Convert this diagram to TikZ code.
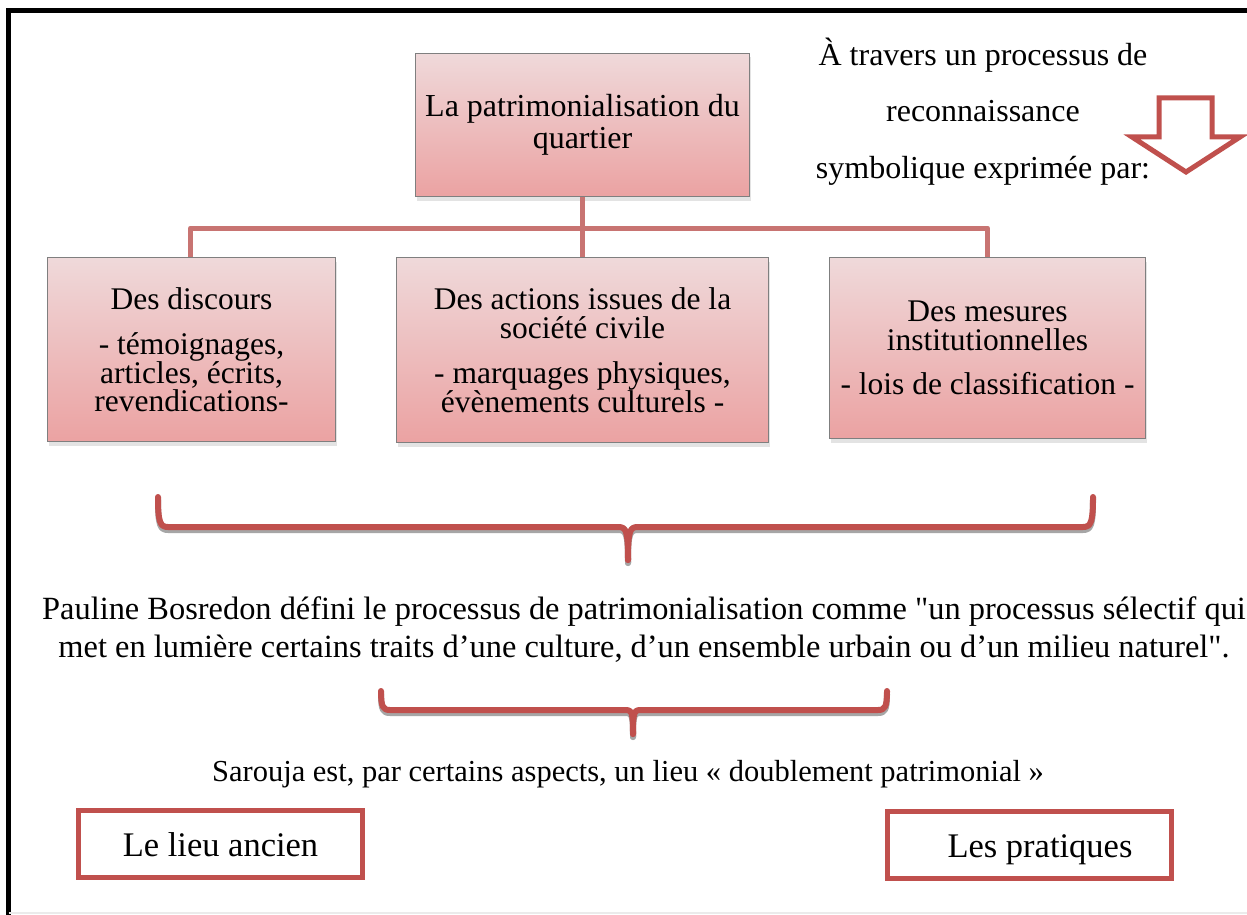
\documentclass[tikz,border=0pt]{standalone}
\usepackage{fontspec}
\setmainfont{Liberation Serif}[Ligatures=TeXOff]
\usetikzlibrary{shadows}
\definecolor{bracered}{HTML}{C0504D}
\definecolor{connred}{HTML}{C87472}
\definecolor{btop}{HTML}{EFD9DA}
\definecolor{bbot}{HTML}{EBA2A2}
\definecolor{boxgray}{HTML}{7F7F7F}
\newcommand{\mytightlines}{\lineskiplimit=-100pt\relax}
\tikzset{
  pinkbox/.style={draw=boxgray, line width=1.2pt, top color=btop, bottom color=bbot,
    drop shadow={opacity=0.22, shadow xshift=1pt, shadow yshift=-4pt},
    align=center, inner sep=0pt, font=\fontsize{31.5}{28.5}\selectfont\mytightlines},
  redbox/.style={draw=bracered, line width=5pt, fill=white, inner sep=0pt,
    minimum width=284pt, minimum height=67pt, text height=25pt, text depth=0pt,
    font=\fontsize{34.5}{36}\selectfont},
  connline/.style={draw=connred, line width=5pt, line join=round},
  braceline/.style={draw=bracered, line width=6pt, line join=round, line cap=round},
  braceshadow/.style={draw=black!35, line width=6pt, line join=round, line cap=round},
  txt/.style={font=\fontsize{32}{38}\selectfont, inner sep=0pt, align=center},
}
\begin{document}
\begin{tikzpicture}[x=1pt,y=-1pt]
\useasboundingbox (0,0) rectangle (1247,915);
\fill[white] (0,0) rectangle (1247,915);
% outer frame
\draw[line width=5pt] (8.5,915) -- (8.5,10.5) -- (1247,10.5);
\draw[black!8, line width=1.5pt] (8.5,913) -- (1247,913);

% top box
\node[pinkbox, minimum width=334pt, minimum height=143pt, font=\fontsize{32}{32}\selectfont] (top) at (582.5,125) {La patrimonialisation du\\quartier};

% three boxes
\node[pinkbox, minimum width=288pt, minimum height=184pt] (b1) at (191.5,349.5) {Des discours\\[17pt] - témoignages,\\articles, écrits,\\revendications-};
\node[pinkbox, minimum width=372pt, minimum height=185pt] (b2) at (582.5,350) {Des actions issues de la\\société civile\\[17pt]- marquages physiques,\\évènements culturels -};
\node[pinkbox, minimum width=316pt, minimum height=181pt] (b3) at (987.5,348) {Des mesures\\institutionnelles\\[16pt]- lois de classification -};

% connectors
\coordinate (j) at (582,228);
\coordinate (c1) at (190.5,257);
\draw[connline] (top.south) -- (b2.north);
\draw[connline] (c1) -- (c1 |- j) -- (b3.north |- j) -- (b3.north);

% top right text and arrow
\node[txt, anchor=base] (t1) at (983,66) {À travers un processus de};
\node[txt, anchor=base] (t2) at (983,122) {reconnaissance};
\node[txt, anchor=base] (t3) at (983,178) {symbolique exprimée par:};
\draw[draw=bracered, line width=5pt, line join=miter]
  (1159,98) -- (1212,98) -- (1212,137) -- (1240,137) -- (1186,172) -- (1132,137) -- (1159,137) -- cycle;

% brace 1
\begin{scope}[yshift=-3pt]
\draw[braceshadow] (158,497) .. controls (158,522) and (160,527) .. (168,527) -- (618,527)
  .. controls (626,527) and (628,530) .. (628,560);
\draw[braceshadow] (628,560) .. controls (628,530) and (630,527) .. (638,527) -- (1083,527)
  .. controls (1091,527) and (1093,522) .. (1093,497);
\end{scope}
\draw[braceline] (158,497) .. controls (158,522) and (160,527) .. (168,527) -- (618,527)
  .. controls (626,527) and (628,530) .. (628,560);
\draw[braceline] (628,560) .. controls (628,530) and (630,527) .. (638,527) -- (1083,527)
  .. controls (1091,527) and (1093,522) .. (1093,497);

% paragraph
\node[txt, anchor=base, font=\fontsize{32.4}{38}\selectfont] (p1) at (644,619) {Pauline Bosredon défini le processus de patrimonialisation comme "un processus sélectif qui};
\node[txt, anchor=base, font=\fontsize{32.4}{38}\selectfont] (p2) at (644,657) {met en lumière certains traits d’une culture, d’un ensemble urbain ou d’un milieu naturel".};

% brace 2
\begin{scope}[yshift=-3pt]
\draw[braceshadow] (381,691) .. controls (381,707) and (383,710) .. (390,710) -- (625,710)
  .. controls (632,710) and (633,712) .. (633,734);
\draw[braceshadow] (633,734) .. controls (633,712) and (634,710) .. (641,710) -- (878,710)
  .. controls (885,710) and (887,707) .. (887,691);
\end{scope}
\draw[braceline] (381,691) .. controls (381,707) and (383,710) .. (390,710) -- (625,710)
  .. controls (632,710) and (633,712) .. (633,734);
\draw[braceline] (633,734) .. controls (633,712) and (634,710) .. (641,710) -- (878,710)
  .. controls (885,710) and (887,707) .. (887,691);

\node[txt, anchor=base, font=\fontsize{30.5}{36}\selectfont] (s) at (628,781) {Sarouja est, par certains aspects, un lieu « doublement patrimonial »};

% bottom boxes
\node[redbox] (lieu) at (220.5,844) {Le lieu ancien};
\node[redbox] (prat) at (1029,845) {\hspace*{22pt}Les pratiques};
\end{tikzpicture}
\end{document}
